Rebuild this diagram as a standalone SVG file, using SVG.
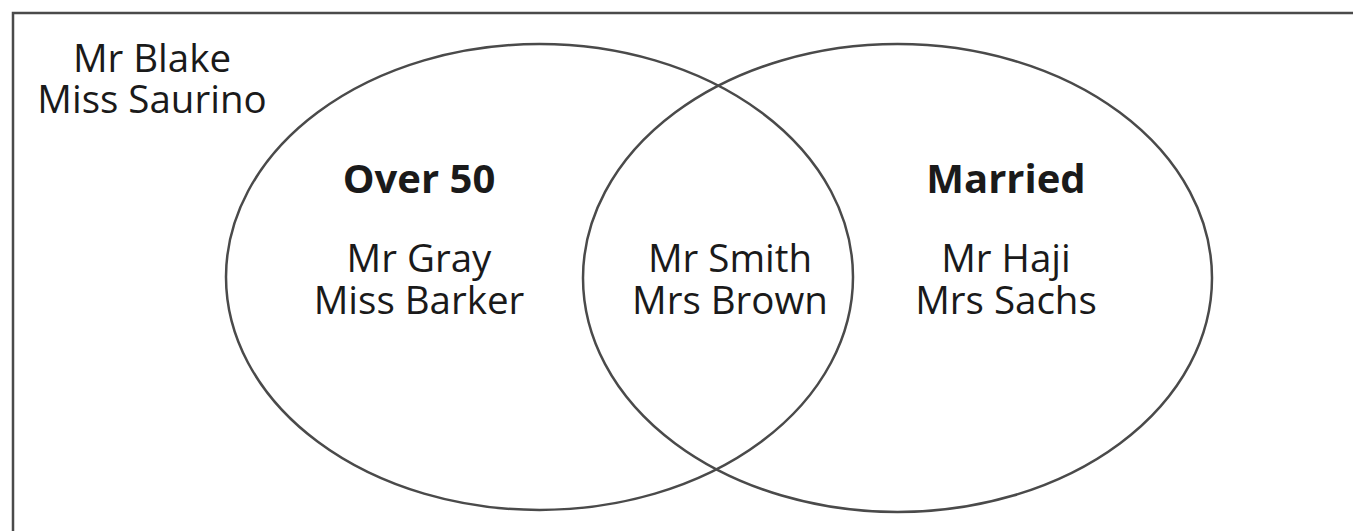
<svg xmlns="http://www.w3.org/2000/svg" width="1353" height="531" viewBox="0 0 1353 531">
<style>
.t{font-family:"Open Sans","Noto Sans",sans-serif;font-size:38.5px;fill:#1a1a1a;text-anchor:middle}
.b{font-weight:bold;font-size:40px}
.ln{fill:none;stroke:#4a4a4a;stroke-width:2.5}
</style>
<rect width="1353" height="531" fill="#ffffff"/>
<g id="frame"><path class="ln" d="M13,560 V13 H1360"/></g>
<g id="outside">
<text class="t" x="152" y="72">Mr Blake</text>
<text class="t" x="152" y="113">Miss Saurino</text>
</g>
<g id="over50">
<ellipse class="ln" cx="539.5" cy="277" rx="313.5" ry="233"/>
<text class="t b" x="419" y="193">Over 50</text>
<text class="t" x="419" y="272">Mr Gray</text>
<text class="t" x="419" y="314">Miss Barker</text>
</g>
<g id="married">
<ellipse class="ln" cx="897.5" cy="278" rx="314.5" ry="234"/>
<text class="t b" x="1006" y="193">Married</text>
<text class="t" x="1006" y="272">Mr Haji</text>
<text class="t" x="1006" y="314">Mrs Sachs</text>
</g>
<g id="both">
<text class="t" x="730" y="272">Mr Smith</text>
<text class="t" x="730" y="314">Mrs Brown</text>
</g>
</svg>
